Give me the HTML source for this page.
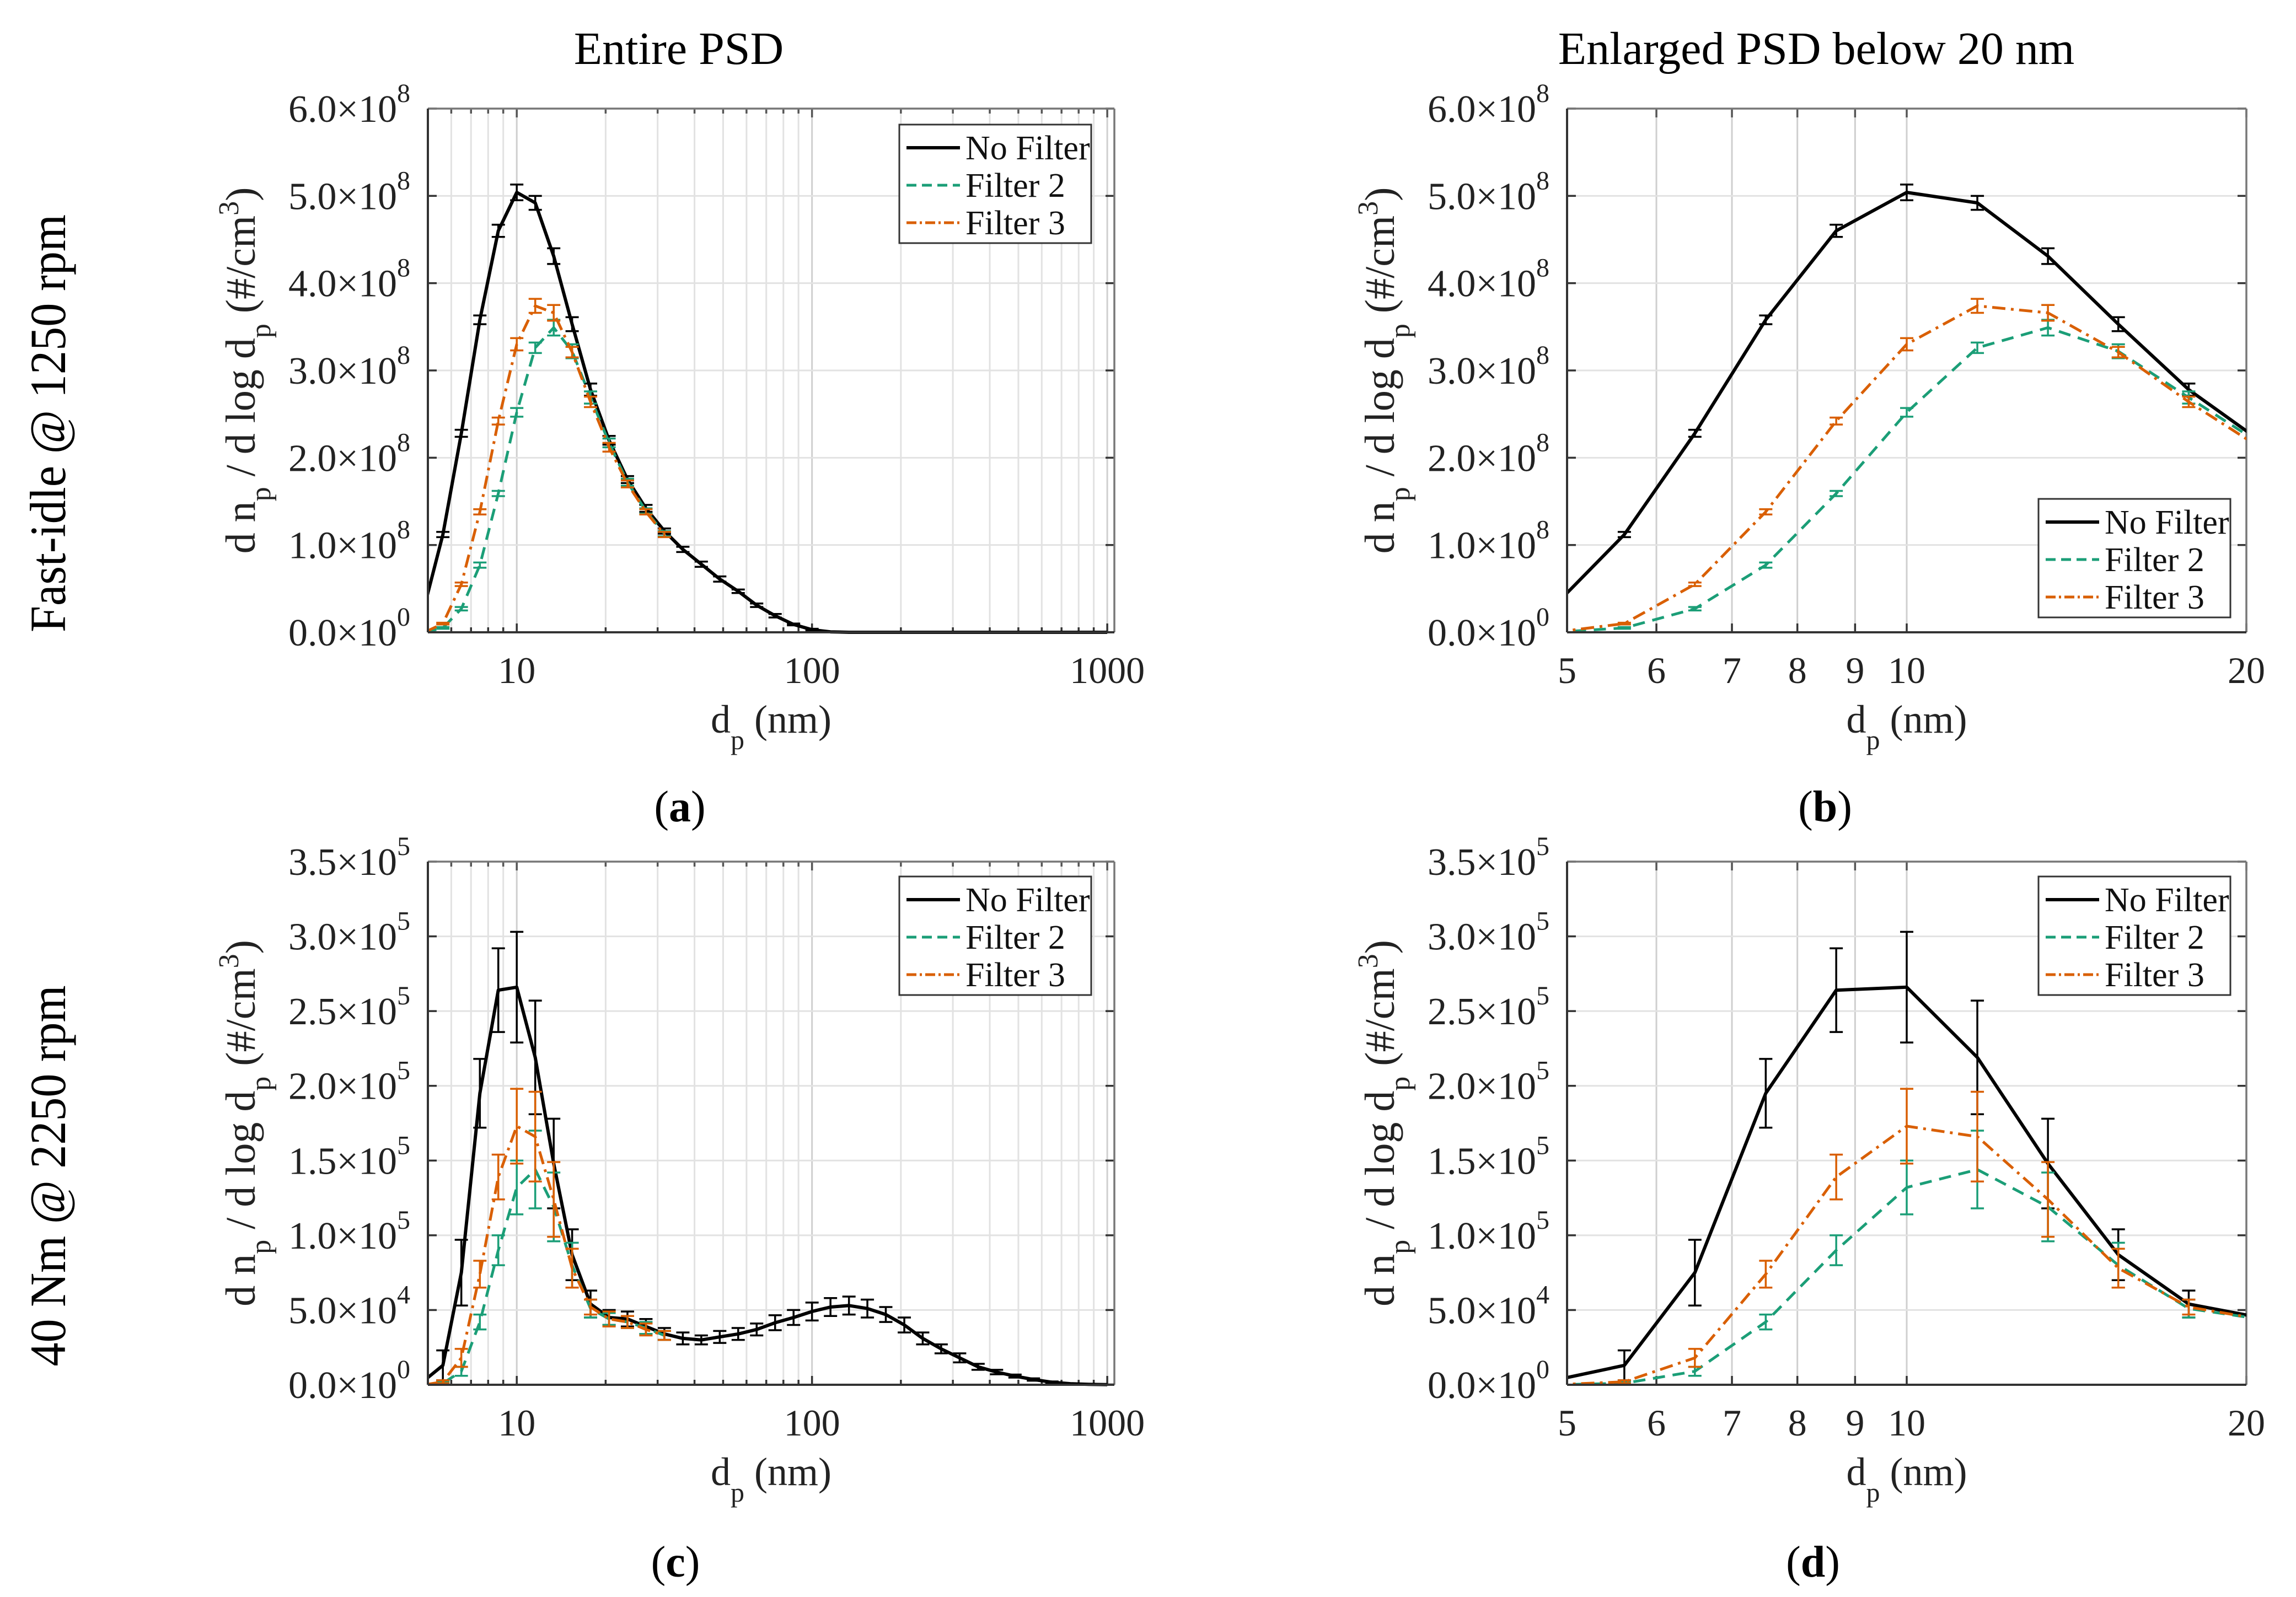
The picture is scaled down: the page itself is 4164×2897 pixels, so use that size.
<!DOCTYPE html>
<html><head><meta charset="utf-8"><style>
html,body{margin:0;padding:0;background:#fff;}
svg{display:block;font-family:"Liberation Serif","DejaVu Serif",serif;}
</style></head><body>
<svg id="fig" width="4164" height="2897" viewBox="0 0 4164 2897" xmlns="http://www.w3.org/2000/svg">
<text x="1231" y="116" font-size="84" text-anchor="middle" fill="#000">Entire PSD</text>
<text x="3294" y="116" font-size="84" text-anchor="middle" fill="#000">Enlarged PSD below 20 nm</text>
<text transform="translate(118,768) rotate(-90)" font-size="92" text-anchor="middle" textLength="758" lengthAdjust="spacingAndGlyphs" fill="#000">Fast-idle @ 1250 rpm</text>
<text transform="translate(118,2133) rotate(-90)" font-size="92" text-anchor="middle" textLength="691" lengthAdjust="spacingAndGlyphs" fill="#000">40 Nm @ 2250 rpm</text>
<text x="1233" y="1490" font-size="80" text-anchor="middle">(<tspan font-weight="bold">a</tspan>)</text>
<text x="3310" y="1490" font-size="80" text-anchor="middle">(<tspan font-weight="bold">b</tspan>)</text>
<text x="1225" y="2860" font-size="80" text-anchor="middle">(<tspan font-weight="bold">c</tspan>)</text>
<text x="3288" y="2860" font-size="80" text-anchor="middle">(<tspan font-weight="bold">d</tspan>)</text>
</svg>
<script>
// bin diameters (nm)
const diam = [4.87,5.62,6.49,7.50,8.66,10.0,11.55,13.34,15.40,17.78,20.54,23.71,27.38,31.62,36.52,42.17,48.70,56.23,64.94,74.99,86.60,100.0,115.5,133.4,154.0,177.8,205.4,237.1,273.8,316.2,365.2,421.7,487.0,562.3,649.4,749.9,866.0,1000];
// Fast-idle (units 1e8)
const idleNoFilter = [0.30,1.12,2.28,3.58,4.60,5.04,4.92,4.31,3.53,2.78,2.20,1.75,1.42,1.16,0.95,0.78,0.61,0.47,0.31,0.19,0.09,0.03,0.005,0,0,0,0,0,0,0,0,0,0,0,0,0,0,0];
const idleNoFilterErr = [0.02,0.03,0.04,0.05,0.07,0.09,0.08,0.09,0.08,0.07,0.05,0.04,0.04,0.03,0.03,0.03,0.03,0.02,0.02,0.02,0.01,0.01,0,0,0,0,0,0,0,0,0,0,0,0,0,0,0,0];
const idleFilter2 = [0,0.05,0.27,0.77,1.59,2.52,3.26,3.49,3.22,2.69,2.17,1.72,1.39,1.13];
const idleFilter2Err = [0,0.01,0.02,0.03,0.03,0.05,0.06,0.09,0.08,0.07,0.05,0.04,0.03,0.03];
const idleFilter3 = [0,0.10,0.55,1.38,2.42,3.30,3.74,3.66,3.21,2.64,2.12,1.70,1.38,1.12];
const idleFilter3Err = [0,0.01,0.02,0.03,0.04,0.07,0.08,0.09,0.06,0.06,0.05,0.04,0.03,0.03];
// 40 Nm (units 1e5)
const loadNoFilter = [0.03,0.13,0.75,1.95,2.64,2.66,2.19,1.48,0.87,0.54,0.45,0.44,0.39,0.34,0.31,0.30,0.32,0.34,0.37,0.415,0.45,0.49,0.52,0.53,0.51,0.47,0.40,0.31,0.24,0.18,0.12,0.085,0.058,0.035,0.017,0.007,0.003,0.001];
const loadNoFilterErr = [0.02,0.1,0.22,0.23,0.28,0.37,0.38,0.30,0.17,0.09,0.05,0.05,0.05,0.04,0.04,0.03,0.04,0.04,0.04,0.05,0.05,0.06,0.06,0.06,0.06,0.05,0.05,0.04,0.03,0.03,0.02,0.015,0.01,0.008,0.005,0.003,0.002,0.001];
const loadFilter2 = [0,0.01,0.09,0.42,0.90,1.32,1.44,1.19,0.80,0.51,0.44,0.42,0.38,0.33];
const loadFilter2Err = [0,0.01,0.03,0.05,0.10,0.18,0.26,0.23,0.15,0.06,0.04,0.04,0.04,0.03];
const loadFilter3 = [0,0.02,0.18,0.74,1.39,1.73,1.66,1.24,0.78,0.52,0.44,0.42,0.37,0.33];
const loadFilter3Err = [0,0.01,0.06,0.09,0.15,0.25,0.30,0.25,0.13,0.05,0.05,0.04,0.04,0.03];
// tick labels
const idleYTicks = [0,1,2,3,4,5,6];
const idleYLabels = ["0.0","1.0","2.0","3.0","4.0","5.0","6.0"];
const idleYExp = ["0","8","8","8","8","8","8"];
const loadYTicks = [0,0.5,1,1.5,2,2.5,3,3.5];
const loadYLabels = ["0.0","5.0","1.0","1.5","2.0","2.5","3.0","3.5"];
const loadYExp = ["0","4","5","5","5","5","5","5"];
const fullXTicks = [10,100,1000];
const fullXLabels = ["10","100","1000"];
const zoomXTicks = [5,6,7,8,9,10,20];
const zoomXLabels = ["5","6","7","8","9","10","20"];
const legendLabels = ["No Filter","Filter 2","Filter 3"];

const NS="http://www.w3.org/2000/svg";
const svg=document.getElementById('fig');
function mk(tag,attrs,parent){const e=document.createElementNS(NS,tag);for(const k in attrs)e.setAttribute(k,attrs[k]);(parent||svg).appendChild(e);return e;}

const COLORS=["#000000","#1b9e77","#d95f02"];
const DASH=["none","22 14","24 10 5 10"];

function panel(p){
  const g=mk('g',{});
  
  
  const lx0=Math.log10(p.xmin), lx1=Math.log10(p.xmax);
  const X=v=>p.x0+(Math.log10(v)-lx0)/(lx1-lx0)*(p.x1-p.x0);
  const Y=v=>p.y1-(v/p.ymax)*(p.y1-p.y0);
  const grid=mk('g',{},g);
  
  
  let xgrid=[];
  if(p.minor){for(let d=1;d<=1000;d*=10)for(let m=1;m<=9;m++){const v=d*m;if(v>=p.xmin&&v<=p.xmax)xgrid.push([v,m===1]);}}
  else xgrid=p.xTicks.map(v=>[v,true]);
  xgrid.forEach(([v,maj])=>{mk('line',{x1:X(v),x2:X(v),y1:p.y0,y2:p.y1,stroke:maj?'#cfcfcf':'#e2e2e2','stroke-width':3},grid);
    const tl=maj?16:9;
    mk('line',{x1:X(v),x2:X(v),y1:p.y1,y2:p.y1-tl,stroke:'#333','stroke-width':3.5},grid);
    mk('line',{x1:X(v),x2:X(v),y1:p.y0,y2:p.y0+tl,stroke:'#555','stroke-width':3.5},grid);});
  p.yTicks.forEach(v=>{mk('line',{x1:p.x0,x2:p.x1,y1:Y(v),y2:Y(v),stroke:'#e2e2e2','stroke-width':3},grid);
    mk('line',{x1:p.x0,x2:p.x0+16,y1:Y(v),y2:Y(v),stroke:'#333','stroke-width':3.5},grid);
    mk('line',{x1:p.x1,x2:p.x1-16,y1:Y(v),y2:Y(v),stroke:'#333','stroke-width':3.5},grid);});
  mk('line',{x1:p.x0,x2:p.x1,y1:p.y0,y2:p.y0,stroke:'#777','stroke-width':3.5},g);
  mk('line',{x1:p.x1,x2:p.x1,y1:p.y0,y2:p.y1,stroke:'#777','stroke-width':3.5},g);
  const cp=mk('clipPath',{id:'clip-'+p.id},g);
  mk('rect',{x:p.x0,y:p.y0-20,width:p.x1-p.x0,height:p.y1-p.y0+24},cp);
  const data=mk('g',{'clip-path':'url(#clip-'+p.id+')'},g);
  p.series.forEach((s,si)=>{
    const sg=mk('g',{},data);
    
    
    const pts=s.v.map((v,i)=>X(diam[i]).toFixed(1)+','+Y(v).toFixed(1)).join(' ');
    const pl=mk('polyline',{points:pts,fill:'none',stroke:COLORS[si],'stroke-width':si===0?6:5,'stroke-dasharray':DASH[si],'stroke-linejoin':'round'},sg);
    
    
    s.v.forEach((v,i)=>{const e=s.e[i];if(!(e>0))return;const x=X(diam[i]);
      if(x<p.x0-1||x>p.x1+1)return;
      const eb=mk('path',{d:`M${x},${Y(v-e)}V${Y(v+e)}M${x-12},${Y(v-e)}h24M${x-12},${Y(v+e)}h24`,stroke:COLORS[si],'stroke-width':3.5,fill:'none'},sg);
      
      });
  });
  mk('line',{x1:p.x0,x2:p.x1,y1:p.y1,y2:p.y1,stroke:'#333','stroke-width':4},g);
  mk('line',{x1:p.x0,x2:p.x0,y1:p.y0,y2:p.y1,stroke:'#333','stroke-width':4},g);
  p.yTicks.forEach((v,i)=>{const t=mk('text',{x:p.x0-32,y:Y(v)+24,'font-size':70,'text-anchor':'end',fill:'#222'},g);
    
    
    t.textContent=p.yLabels[i]+'\u00d710';
    const sp=mk('tspan',{dy:-36,'font-size':48},t);sp.textContent=p.yExp[i];});
  p.xTicks.forEach((v,i)=>{const t=mk('text',{x:X(v),y:p.y1+92,'font-size':68,'text-anchor':'middle',fill:'#222'},g);
    
    
    t.textContent=p.xLabels[i];});
  const xl=mk('text',{x:(p.x0+p.x1)/2,y:p.y1+182,'font-size':72,'text-anchor':'middle',fill:'#222'},g);
  
  
  xl.innerHTML='d<tspan dy="30" font-size="50">p</tspan><tspan dy="-30"> (nm)</tspan>';
  const yc=(p.y0+p.y1)/2;
  const yl=mk('text',{transform:`translate(${p.x0-314},${yc}) rotate(-90)`,'font-size':76,'text-anchor':'middle',fill:'#222'},g);
  
  
  yl.innerHTML='d n<tspan dy="28" font-size="52">p</tspan><tspan dy="-28"> / d log d</tspan><tspan dy="28" font-size="52">p</tspan><tspan dy="-28"> (#/cm</tspan><tspan dy="-30" font-size="52">3</tspan><tspan dy="30">)</tspan>';
  const L=p.legend;
  const lg=mk('g',{},g);
  
  
  mk('rect',{x:L.x,y:L.y,width:348,height:215,fill:'#fff',stroke:'#333','stroke-width':3},lg);
  legendLabels.forEach((lab,i)=>{const ly=L.y+42+i*68;
    const en=mk('g',{},lg);
    
    
    mk('line',{x1:L.x+13,x2:L.x+110,y1:ly,y2:ly,stroke:COLORS[i],'stroke-width':i===0?6:5,'stroke-dasharray':i===0?'none':(i===1?'18 10':'18 6 4 6')},en);
    const t=mk('text',{x:L.x+120,y:ly+21,'font-size':62,fill:'#111'},en);t.textContent=lab;});
}

panel({id:'a',x0:776,x1:2021,y0:197,y1:1147,xmin:5,xmax:1057,ymax:6,minor:true,yTicks:idleYTicks,yLabels:idleYLabels,yExp:idleYExp,xTicks:fullXTicks,xLabels:fullXLabels,
  series:[{v:idleNoFilter,e:idleNoFilterErr},{v:idleFilter2,e:idleFilter2Err},{v:idleFilter3,e:idleFilter3Err}],legend:{x:1631,y:226}});
panel({id:'b',x0:2842,x1:4074,y0:197,y1:1147,xmin:5,xmax:20,ymax:6,minor:false,yTicks:idleYTicks,yLabels:idleYLabels,yExp:idleYExp,xTicks:zoomXTicks,xLabels:zoomXLabels,
  series:[{v:idleNoFilter,e:idleNoFilterErr},{v:idleFilter2,e:idleFilter2Err},{v:idleFilter3,e:idleFilter3Err}],legend:{x:3697,y:905}});
panel({id:'c',x0:776,x1:2021,y0:1563,y1:2512,xmin:5,xmax:1057,ymax:3.5,minor:true,yTicks:loadYTicks,yLabels:loadYLabels,yExp:loadYExp,xTicks:fullXTicks,xLabels:fullXLabels,
  series:[{v:loadNoFilter,e:loadNoFilterErr},{v:loadFilter2,e:loadFilter2Err},{v:loadFilter3,e:loadFilter3Err}],legend:{x:1631,y:1590}});
panel({id:'d',x0:2842,x1:4074,y0:1563,y1:2512,xmin:5,xmax:20,ymax:3.5,minor:false,yTicks:loadYTicks,yLabels:loadYLabels,yExp:loadYExp,xTicks:zoomXTicks,xLabels:zoomXLabels,
  series:[{v:loadNoFilter,e:loadNoFilterErr},{v:loadFilter2,e:loadFilter2Err},{v:loadFilter3,e:loadFilter3Err}],legend:{x:3697,y:1590}});
</script>
</body></html>
